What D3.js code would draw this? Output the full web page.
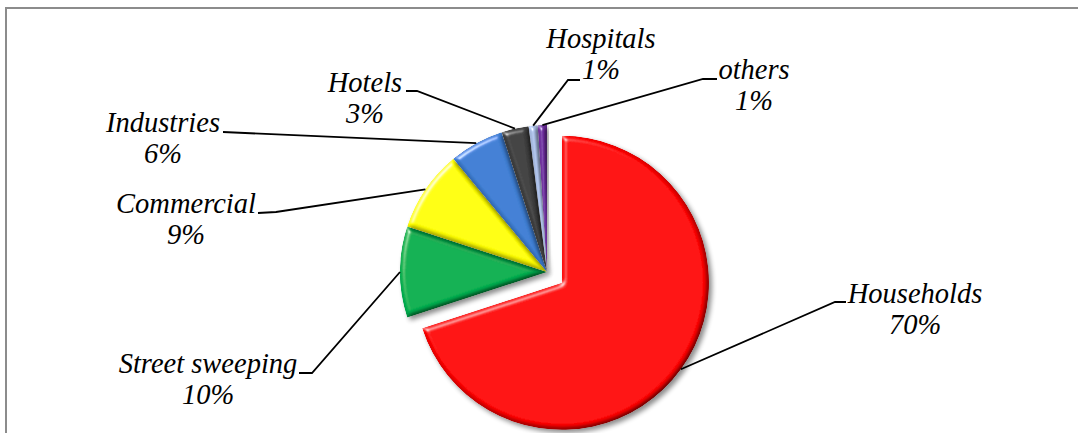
<!DOCTYPE html>
<html lang="en">
<head>
<meta charset="utf-8" />
<title>waste sources</title>
<script src="https://d3js.org/d3.v7.min.js"></script>
<style>
  body { margin: 0; background: #fff; }
</style>
</head>
<body>
<div id="chart"></div>
<script>
    // data
    const categories = ["Households", "Street sweeping", "Commercial", "Industries", "Hotels", "Hospitals", "others"];
    const values = [70, 10, 9, 6, 3, 1, 1];
    const colors = ["#ff0000", "#00b050", "#ffff00", "#3f7fd4", "#3f3f3f", "#a9bce3", "#7030a0"];

    // label layout: text centre, first baseline, leader elbow [text end, bend]
    const labelLayout = [
        {x: 915, y: 303, elbow: [[846, 302], [835, 302]]},
        {x: 208, y: 373, elbow: [[299, 373], [312, 373]]},
        {x: 186, y: 213, elbow: [[258, 213], [276, 212]]},
        {x: 163, y: 132, elbow: [[223, 132], [245, 133]]},
        {x: 365, y: 92,  elbow: [[406, 91], [417, 91]]},
        {x: 601, y: 48,  elbow: [[580, 80], [568, 80]]},
        {x: 754, y: 79,  elbow: [[717, 79], [703, 79]]}
    ];

    const width = 1078, height = 433;
    const cx = 547, cy = 272, r = 147;
    const explode = 18.5;

    const svg = d3.select("#chart").append("svg")
        .attr("width", width)
        .attr("height", height);

    // bevel + shadow filter
    const defs = svg.append("defs");
    const f = defs.append("filter").attr("id", "bevel")
        .attr("x", "-20%").attr("y", "-20%").attr("width", "140%").attr("height", "140%");
    f.append("feGaussianBlur").attr("in", "SourceAlpha").attr("stdDeviation", 2.5).attr("result", "blur");
    f.append("feSpecularLighting").attr("in", "blur").attr("surfaceScale", 4)
        .attr("specularConstant", 0.7).attr("specularExponent", 30)
        .attr("lighting-color", "#ffffff").attr("result", "spec")
        .append("feDistantLight").attr("azimuth", 225).attr("elevation", 30);
    f.append("feComposite").attr("in", "spec").attr("in2", "SourceAlpha").attr("operator", "in").attr("result", "specIn");
    f.append("feDiffuseLighting").attr("in", "blur").attr("surfaceScale", 4)
        .attr("diffuseConstant", 1).attr("lighting-color", "#ffffff").attr("result", "diff")
        .append("feDistantLight").attr("azimuth", 225).attr("elevation", 60);
    f.append("feComposite").attr("in", "SourceGraphic").attr("in2", "diff").attr("operator", "arithmetic")
        .attr("k1", 1.16).attr("k2", 0).attr("k3", 0).attr("k4", 0).attr("result", "lit");
    f.append("feComposite").attr("in", "lit").attr("in2", "SourceAlpha").attr("operator", "in").attr("result", "litIn");
    f.append("feComposite").attr("in", "litIn").attr("in2", "specIn").attr("operator", "arithmetic")
        .attr("k1", 0).attr("k2", 1).attr("k3", 0.8).attr("k4", 0).attr("result", "shape");
    f.append("feOffset").attr("in", "SourceAlpha").attr("dx", 3).attr("dy", 3).attr("result", "off");
    f.append("feGaussianBlur").attr("in", "off").attr("stdDeviation", 2.5).attr("result", "shBlur");
    f.append("feComponentTransfer").attr("in", "shBlur").attr("result", "shadow")
        .append("feFuncA").attr("type", "linear").attr("slope", 0.45);
    const m = f.append("feMerge");
    m.append("feMergeNode").attr("in", "shadow");
    m.append("feMergeNode").attr("in", "shape");

    // frame
    svg.append("rect")
        .attr("x", 6).attr("y", 8)
        .attr("width", width + 20).attr("height", height + 20)
        .attr("fill", "none")
        .attr("stroke", "#8c8c8c")
        .attr("stroke-width", 2);

    const data = categories.map((c, i) => ({name: c, value: values[i], color: colors[i], layout: labelLayout[i]}));

    const pie = d3.pie().sort(null).value(d => d.value);
    const arcs = pie(data);
    const arc = d3.arc().innerRadius(0).outerRadius(r);

    // offset for exploded slice
    const shift = (d, i) => {
        if (i !== 0) return [0, 0];
        const a = (d.startAngle + d.endAngle) / 2;
        return [explode * Math.sin(a), -explode * Math.cos(a)];
    };

    const g = svg.append("g").attr("transform", `translate(${cx},${cy})`);

    g.selectAll("path.slice")
        .data(arcs)
        .join("path")
        .attr("class", "slice")
        .attr("transform", (d, i) => `translate(${shift(d, i)})`)
        .attr("d", arc)
        .attr("fill", d => d.data.color)
        .attr("filter", "url(#bevel)");

    // leader lines
    const line = d3.line();
    svg.selectAll("path.leader")
        .data(arcs)
        .join("path")
        .attr("class", "leader")
        .attr("d", (d, i) => {
            const a = (d.startAngle + d.endAngle) / 2;
            const s = shift(d, i);
            const p = [cx + s[0] + r * Math.sin(a), cy + s[1] - r * Math.cos(a)];
            const e = d.data.layout.elbow;
            return line([e[0], e[1], p]);
        })
        .attr("fill", "none")
        .attr("stroke", "#000")
        .attr("stroke-width", 1.8);

    // labels
    const labels = svg.selectAll("text.lbl")
        .data(arcs)
        .join("text")
        .attr("class", "lbl")
        .attr("text-anchor", "middle")
        .style("font-family", "Liberation Serif")
        .style("font-style", "italic")
        .style("font-size", "28.5px")
        .attr("fill", "#000");
    labels.append("tspan")
        .attr("x", d => d.data.layout.x)
        .attr("y", d => d.data.layout.y)
        .text(d => d.data.name);
    labels.append("tspan")
        .attr("x", d => d.data.layout.x)
        .attr("dy", 31)
        .text(d => d.data.value + "%");
</script>
</body>
</html>
